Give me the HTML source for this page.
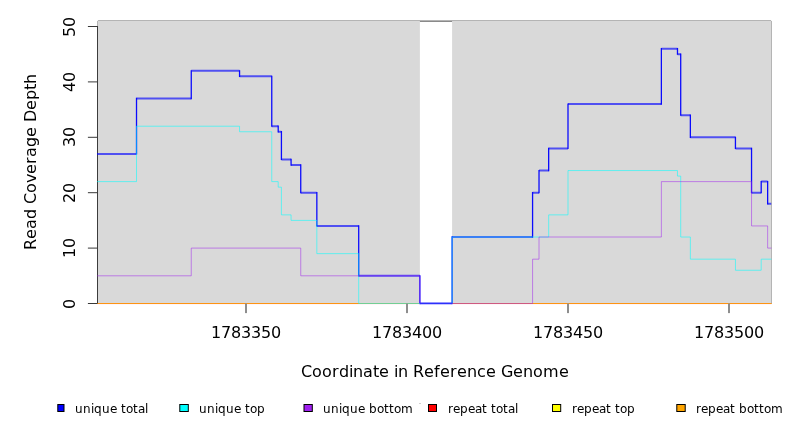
<!DOCTYPE html>
<html><head><meta charset="utf-8"><style>
html,body{margin:0;padding:0;background:#fff;}
svg{display:block;}
.t16{font-family:"DejaVu Sans","Liberation Sans",sans-serif;font-size:16px;fill:#000;}
.t12{font-family:"DejaVu Sans","Liberation Sans",sans-serif;font-size:12px;fill:#000;}
</style></head><body>
<svg width="792" height="432" viewBox="0 0 792 432">
<rect x="0" y="0" width="792" height="432" fill="#fff"/>
<rect x="97.5" y="20.5" width="674.0" height="283.0" fill="#d9d9d9"/>
<rect x="419.88" y="20.5" width="32.20" height="283.0" fill="#fff"/>
<rect x="419.88" y="21" width="32.20" height="1" fill="#8a8a8a"/>
<rect x="98" y="20" width="673" height="1" fill="#b4b4b4"/>
<rect x="771" y="21" width="1" height="283" fill="#b4b4b4"/>
<rect x="97" y="21" width="1" height="6" fill="#b4b4b4"/>
<line x1="97.5" y1="26" x2="97.5" y2="304" stroke="#3c3c3c" stroke-width="1"/>
<defs><clipPath id="pc"><rect x="97" y="20.5" width="674.5" height="284.1"/></clipPath></defs>
<g clip-path="url(#pc)" fill="none" stroke-linejoin="round" stroke-linecap="round">
<line x1="97.00" y1="303.5" x2="419.88" y2="303.5" stroke="rgba(255,255,0,0.6)" stroke-width="1"/>
<line x1="97.00" y1="303.5" x2="419.88" y2="303.5" stroke="rgba(255,0,0,0.5)" stroke-width="1"/>
<line x1="97.00" y1="304.5" x2="419.88" y2="304.5" stroke="rgba(255,0,80,0.08)" stroke-width="1"/>
<line x1="97.00" y1="303.5" x2="419.88" y2="303.5" stroke="rgba(255,165,0,0.6)" stroke-width="1"/>
<line x1="452.08" y1="303.5" x2="771.50" y2="303.5" stroke="rgba(255,255,0,0.6)" stroke-width="1"/>
<line x1="452.08" y1="303.5" x2="771.50" y2="303.5" stroke="rgba(255,0,0,0.5)" stroke-width="1"/>
<line x1="452.08" y1="304.5" x2="771.50" y2="304.5" stroke="rgba(255,0,80,0.08)" stroke-width="1"/>
<line x1="452.08" y1="303.5" x2="771.50" y2="303.5" stroke="rgba(255,165,0,0.6)" stroke-width="1"/>
<path d="M97.00,153.92 L136.52,153.92 M136.52,98.52 L191.26,98.52 M191.26,70.82 L239.56,70.82 M239.56,76.36 L271.76,76.36 M271.76,126.22 L278.20,126.22 M278.20,131.76 L281.42,131.76 M281.42,159.46 L291.08,159.46 M291.08,165.00 L300.74,165.00 M300.74,192.70 L316.84,192.70 M316.84,225.94 L358.70,225.94 M358.70,275.80 L419.88,275.80 M419.88,303.50 L452.08,303.50 M452.08,237.02 L532.58,237.02 M532.58,192.70 L539.02,192.70 M539.02,170.54 L548.68,170.54 M548.68,148.38 L568.00,148.38 M568.00,104.06 L661.38,104.06 M661.38,48.66 L677.48,48.66 M677.48,54.20 L680.70,54.20 M680.70,115.14 L690.36,115.14 M690.36,137.30 L735.44,137.30 M735.44,148.38 L751.54,148.38 M751.54,192.70 L761.20,192.70 M761.20,181.62 L767.64,181.62 M767.64,203.78 L771.50,203.78" stroke="rgba(0,0,255,0.63)" stroke-width="2.0" stroke-linecap="butt"/>
<path d="M136.52,153.92 L136.52,98.52 M191.26,98.52 L191.26,70.82 M239.56,70.82 L239.56,76.36 M271.76,76.36 L271.76,126.22 M278.20,126.22 L278.20,131.76 M281.42,131.76 L281.42,159.46 M291.08,159.46 L291.08,165.00 M300.74,165.00 L300.74,192.70 M316.84,192.70 L316.84,225.94 M358.70,225.94 L358.70,275.80 M419.88,275.80 L419.88,303.50 M452.08,303.50 L452.08,237.02 M532.58,237.02 L532.58,192.70 M539.02,192.70 L539.02,170.54 M548.68,170.54 L548.68,148.38 M568.00,148.38 L568.00,104.06 M661.38,104.06 L661.38,48.66 M677.48,48.66 L677.48,54.20 M680.70,54.20 L680.70,115.14 M690.36,115.14 L690.36,137.30 M735.44,137.30 L735.44,148.38 M751.54,148.38 L751.54,192.70 M761.20,192.70 L761.20,181.62 M767.64,181.62 L767.64,203.78" stroke="rgba(0,0,255,0.95)" stroke-width="1.3" stroke-linecap="square"/>
<path d="M97.00,181.62 L136.52,181.62 L136.52,126.22 L239.56,126.22 L239.56,131.76 L271.76,131.76 L271.76,181.62 L278.20,181.62 L278.20,187.16 L281.42,187.16 L281.42,214.86 L291.08,214.86 L291.08,220.40 L316.84,220.40 L316.84,253.64 L358.70,253.64 L358.70,303.50 L452.08,303.50 L452.08,237.02 L548.68,237.02 L548.68,214.86 L568.00,214.86 L568.00,170.54 L677.48,170.54 L677.48,176.08 L680.70,176.08 L680.70,237.02 L690.36,237.02 L690.36,259.18 L735.44,259.18 L735.44,270.26 L761.20,270.26 L761.20,259.18 L771.50,259.18" stroke="rgba(0,255,255,0.55)" stroke-width="1"/>
<path d="M97.00,275.80 L191.26,275.80 L191.26,248.10 L300.74,248.10 L300.74,275.80 L419.88,275.80 L419.88,303.50 L532.58,303.50 L532.58,259.18 L539.02,259.18 L539.02,237.02 L661.38,237.02 L661.38,181.62 L751.54,181.62 L751.54,225.94 L767.64,225.94 L767.64,248.10 L771.50,248.10" stroke="rgba(160,32,240,0.5)" stroke-width="1"/>
<line x1="420.88" y1="303.5" x2="451.08" y2="303.5" stroke="rgba(0,0,255,0.55)" stroke-width="1.7"/>
</g>
<line x1="87.9" y1="303.50" x2="97.5" y2="303.50" stroke="#383838" stroke-width="1"/>
<text x="69.70" y="303.50" class="t16" transform="rotate(-90 75.2 303.50)">0</text>
<line x1="87.9" y1="248.10" x2="97.5" y2="248.10" stroke="#383838" stroke-width="1"/>
<text x="65.30 75.30" y="248.10" class="t16" transform="rotate(-90 75.2 248.10)">10</text>
<line x1="87.9" y1="192.70" x2="97.5" y2="192.70" stroke="#383838" stroke-width="1"/>
<text x="64.90 74.90" y="192.70" class="t16" transform="rotate(-90 75.2 192.70)">20</text>
<line x1="87.9" y1="137.30" x2="97.5" y2="137.30" stroke="#383838" stroke-width="1"/>
<text x="65.50 75.50" y="137.30" class="t16" transform="rotate(-90 75.2 137.30)">30</text>
<line x1="87.9" y1="81.90" x2="97.5" y2="81.90" stroke="#383838" stroke-width="1"/>
<text x="65.10 75.10" y="81.90" class="t16" transform="rotate(-90 75.2 81.90)">40</text>
<line x1="87.9" y1="26.50" x2="97.5" y2="26.50" stroke="#383838" stroke-width="1"/>
<text x="64.70 74.70" y="26.50" class="t16" transform="rotate(-90 75.2 26.50)">50</text>
<rect x="245" y="303.5" width="2" height="9.6" fill="#8e8e8e"/>
<text x="211.00 221.00 231.00 241.00 251.00 261.00 271.00" y="337.80" class="t16">1783350</text>
<rect x="406" y="303.5" width="2" height="9.6" fill="#8e8e8e"/>
<text x="372.00 382.00 392.00 402.00 412.00 422.00 432.00" y="337.80" class="t16">1783400</text>
<rect x="567" y="303.5" width="2" height="9.6" fill="#8e8e8e"/>
<text x="533.00 543.00 553.00 563.00 573.00 583.00 593.00" y="337.80" class="t16">1783450</text>
<rect x="728" y="303.5" width="2" height="9.6" fill="#8e8e8e"/>
<text x="694.00 704.00 714.00 724.00 734.00 744.00 754.00" y="337.80" class="t16">1783500</text>
<text x="301.00 312.00 322.00 332.00 339.00 349.00 353.00 363.00 373.00 379.00 389.00 394.00 398.00 408.00 413.00 424.00 434.00 440.00 450.00 457.00 467.00 477.00 486.00 496.00 501.00 513.00 523.00 533.00 543.00 559.00" y="376.80" class="t16">Coordinate in Reference Genome</text>
<text x="-52.00 -41.00 -31.00 -21.00 -11.00 -6.00 5.00 15.00 24.00 34.00 41.00 51.00 61.00 71.00 76.00 88.00 98.00 108.00 114.00" y="162.00" class="t16" transform="rotate(-90 36 162.00)">Read Coverage Depth</text>
<rect x="57.80" y="404.5" width="6.20" height="7" fill="#0000ff" stroke="#000" stroke-width="1"/>
<text x="75.00 83.00 91.00 94.00 102.00 110.00 117.00 121.00 126.00 133.00 138.00 145.00" y="413.20" class="t12">unique total</text>
<rect x="179.80" y="404.5" width="8.50" height="7" fill="#00ffff" stroke="#000" stroke-width="1"/>
<text x="199.00 207.00 215.00 218.00 226.00 234.00 241.00 245.00 250.00 257.00" y="413.20" class="t12">unique top</text>
<rect x="304.00" y="404.5" width="8.30" height="7" fill="#a020f0" stroke="#000" stroke-width="1"/>
<text x="323.00 331.00 339.00 342.00 350.00 358.00 365.00 369.00 377.00 384.00 389.00 394.00 401.00" y="413.20" class="t12">unique bottom</text>
<rect x="428.50" y="404.5" width="8.00" height="7" fill="#ff0000" stroke="#000" stroke-width="1"/>
<text x="448.00 453.00 460.00 468.00 475.00 482.00 487.00 491.00 496.00 503.00 508.00 515.00" y="413.20" class="t12">repeat total</text>
<rect x="552.50" y="404.5" width="8.20" height="7" fill="#ffff00" stroke="#000" stroke-width="1"/>
<text x="572.00 577.00 584.00 592.00 599.00 606.00 611.00 615.00 620.00 627.00" y="413.20" class="t12">repeat top</text>
<rect x="676.80" y="404.5" width="8.40" height="7" fill="#ffa500" stroke="#000" stroke-width="1"/>
<text x="696.00 701.00 708.00 716.00 723.00 730.00 735.00 739.00 747.00 754.00 759.00 764.00 771.00" y="413.20" class="t12">repeat bottom</text>
<rect x="419" y="403" width="2" height="1" fill="#d0d0d0"/>
</svg>
</body></html>
